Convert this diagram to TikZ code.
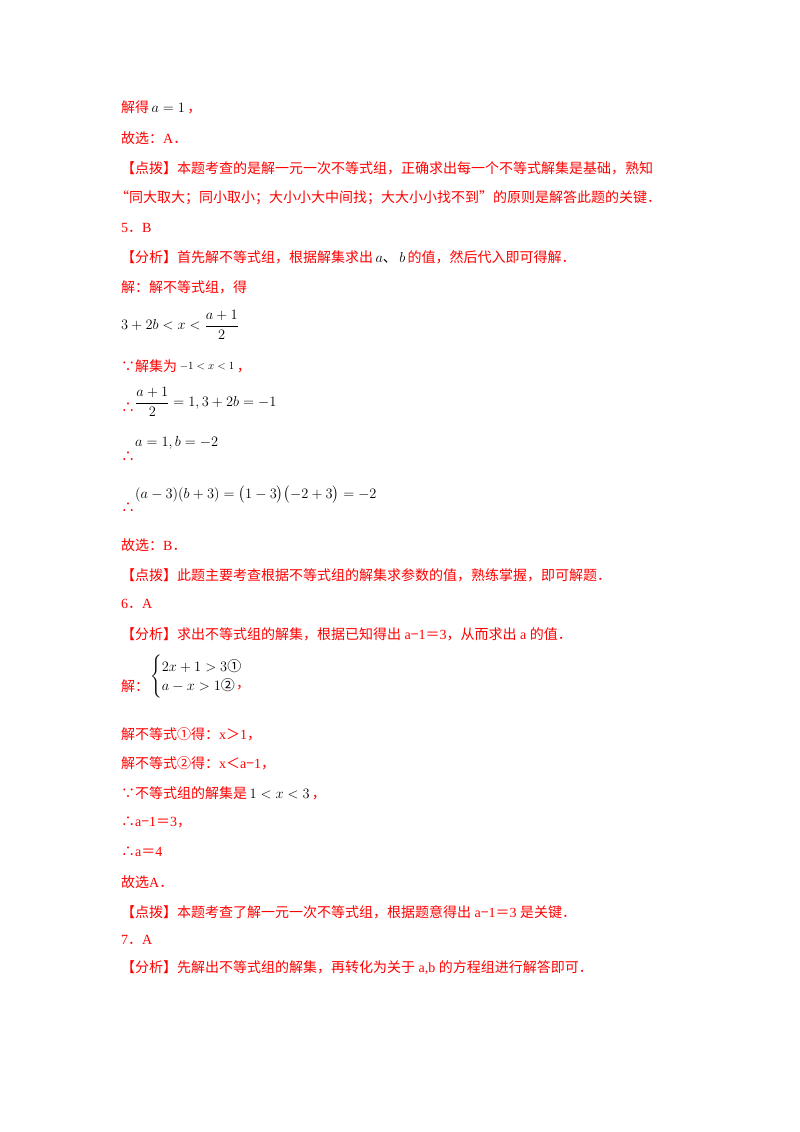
\documentclass[tikz,border=0pt]{standalone}
\usepackage{amsmath}
\usepackage{fontspec}
\setmainfont{Liberation Serif}
\newfontfamily\cjk{Noto Sans CJK SC}
\newcommand{\Z}[1]{{\cjk #1}}
\definecolor{hred}{RGB}{255,0,0}
\begin{document}
\begin{tikzpicture}[x=1pt,y=-1pt,
  t/.style={anchor=west,inner sep=0pt,text=hred,font=\fontsize{14}{16}\selectfont},
  m/.style={anchor=west,inner sep=0pt,text=black,font=\fontsize{14}{16}\selectfont}]
\useasboundingbox[fill=white] (0,0) rectangle (800,1132);
\node[t] (l1) at (121,107) {\Z{解得}\,\textcolor{black}{$a=1$}\,\Z{，}};
\node[t] (l2) at (121,138) {\Z{故选：}A\Z{．}};
\node[t] (l3) at (121,168) {\Z{【点拨】本题考查的是解一元一次不等式组，正确求出每一个不等式解集是基础，熟知}};
\node[t] (l4) at (115,198) {\Z{“同大取大；同小取小；大小小大中间找；大大小小找不到”的原则是解答此题的关键．}};
\node[t] (l5) at (121,228) {5\Z{．}B};
\node[t] (l6) at (121,257) {\Z{【分析】首先解不等式组，根据解集求出}\,\textcolor{black}{$a$\Z{、}\,$b$}\,\Z{的值，然后代入即可得解．}};
\node[t] (l7) at (121,287) {\Z{解：解不等式组，得}};
\node[m] (l8) at (121,325) {$3+2b<x<\dfrac{a+1}{2}$};
\node[t] (l9) at (121,366) {\Z{∵解集为}\,\textcolor{black}{\raisebox{2pt}{\fontsize{11}{12}\selectfont$-1<x<1$}}\,\Z{，}};
\node[t] (d1) at (121,408) {\Z{∴}};
\node[m] (l10) at (135,402) {$\dfrac{a+1}{2}=1,3+2b=-1$};
\node[t] (d2) at (121,457) {\Z{∴}};
\node[m] (l11) at (135,443) {$a=1,b=-2$};
\node[t] (d3) at (121,508) {\Z{∴}};
\node[m] (l12) at (135,495) {$(a-3)(b+3)=\bigl(1-3\bigr)\bigl(-2+3\bigr)=-2$};
\node[t] (l13) at (121,545) {\Z{故选：}B\Z{．}};
\node[t] (l14) at (121,575) {\Z{【点拨】此题主要考查根据不等式组的解集求参数的值，熟练掌握，即可解题．}};
\node[t] (l15) at (121,604) {6\Z{．}A};
\node[t] (l16) at (121,634) {\Z{【分析】求出不等式组的解集，根据已知得出} a\Z{−}1\Z{＝}3\Z{，从而求出} a \Z{的值．}};
\node[t] (l17a) at (121,686) {\Z{解：}};
\node[m] (l17) at (150,677) {$\begin{cases}2x+1>3\text{\Z{①}}\\ a-x>1\text{\Z{②}}\end{cases}$};
\node[t] (l17c) at (236,688) {\Z{，}};
\node[t] (l18) at (121,734) {\Z{解不等式①得：}x\Z{＞}1\Z{，}};
\node[t] (l19) at (121,763) {\Z{解不等式②得：}x\Z{＜}a\Z{−}1\Z{，}};
\node[t] (l20) at (121,793) {\Z{∵不等式组的解集是}\,\textcolor{black}{$1<x<3$}\,\Z{，}};
\node[t] (l21) at (121,822) {\Z{∴}a\Z{−}1\Z{＝}3\Z{，}};
\node[t] (l22) at (121,852) {\Z{∴}a\Z{＝}4};
\node[t] (l23) at (121,882) {\Z{故选}A\Z{．}};
\node[t] (l24) at (121,912) {\Z{【点拨】本题考查了解一元一次不等式组，根据题意得出} a\Z{−}1\Z{＝}3 \Z{是关键．}};
\node[t] (l25) at (121,940) {7\Z{．}A};
\node[t] (l26) at (121,968) {\Z{【分析】先解出不等式组的解集，再转化为关于} a,b \Z{的方程组进行解答即可．}};
\end{tikzpicture}
\end{document}
